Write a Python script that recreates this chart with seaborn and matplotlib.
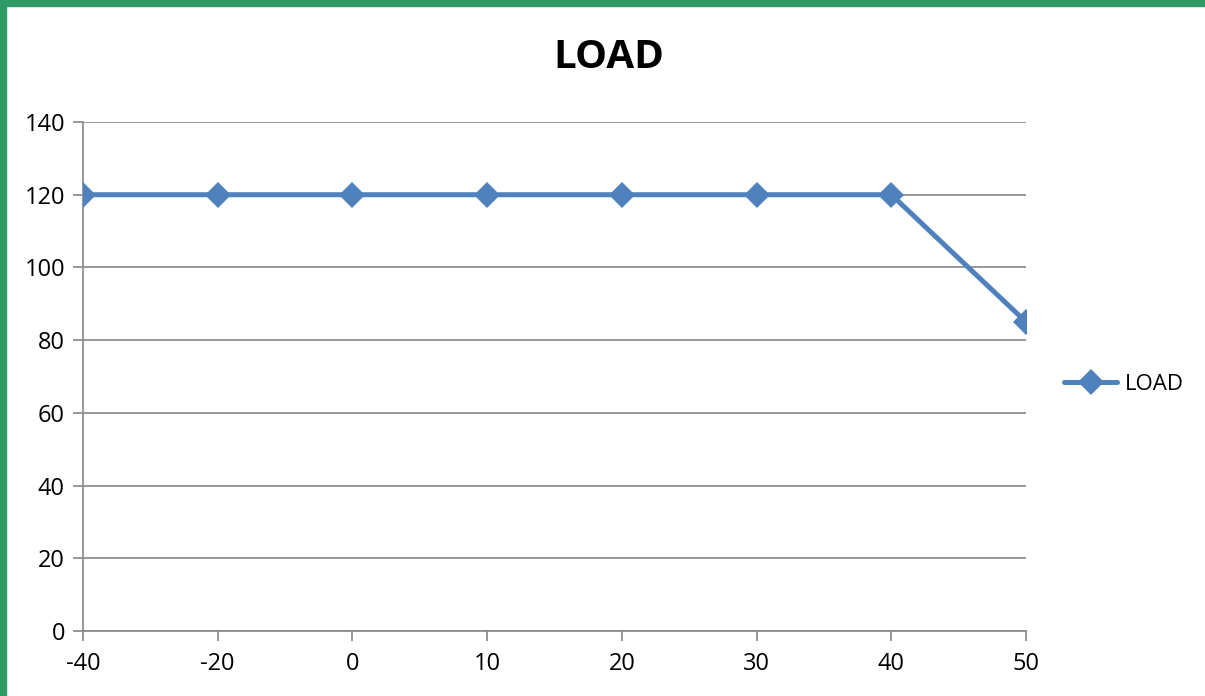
import matplotlib
matplotlib.use('Agg')
import matplotlib.pyplot as plt
import matplotlib.patches as patches
import seaborn as sns
import pandas as pd

# data
temps = ['-40', '-20', '0', '10', '20', '30', '40', '50']
load = [120, 120, 120, 120, 120, 120, 120, 85]

sns.set_style('white')
plt.rcParams['font.family'] = ['Open Sans', 'DejaVu Sans']
plt.rcParams['text.color'] = 'black'

df = pd.DataFrame({'pos': range(len(temps)), 'load': load})

fig = plt.figure(figsize=(12.05, 6.96), dpi=100)
ax = fig.add_axes([0.0689, 0.0934, 0.7826, 0.7313])

grey = '#868686'
sns.lineplot(data=df, x='pos', y='load', ax=ax, color='#4F81BD', linewidth=3.6,
             marker='D', markersize=13, markeredgewidth=0, label='LOAD', zorder=5)

ax.set_xlim(0, len(temps) - 1)
ax.set_ylim(0, 140)
ax.set_xticks(range(len(temps)))
ax.set_xticklabels(temps)
ax.set_yticks(range(0, 141, 20))
ax.yaxis.grid(True, color=grey, linewidth=1.2)
ax.set_axisbelow(True)
ax.set_xlabel('')
ax.set_ylabel('')

for side in ['top', 'right']:
    ax.spines[side].set_visible(False)
for side in ['left', 'bottom']:
    ax.spines[side].set_color(grey)
    ax.spines[side].set_linewidth(1.2)
ax.tick_params(axis='both', which='major', direction='out', length=7, width=1.2,
               color=grey, labelsize=17, labelcolor='black', left=True, bottom=True)
ax.tick_params(axis='y', pad=6)
ax.tick_params(axis='x', pad=8)

fig.text(0.505, 0.917, 'LOAD', ha='center', va='center', fontsize=29,
         fontweight='bold', color='black')

leg = ax.legend(loc='center left', bbox_to_anchor=(1.019, 0.485), frameon=False, fontsize=16,
                handlelength=2.4, handletextpad=0.35)
for t in leg.get_texts():
    t.set_color('black')

# green frame on top and left edges
fig.patches.append(patches.Rectangle((0, 0), 0.005, 1, transform=fig.transFigure,
                                     color='#2E9A66', zorder=10))
fig.patches.append(patches.Rectangle((0, 0.991), 1, 0.009, transform=fig.transFigure,
                                     color='#2E9A66', zorder=10))

plt.savefig('out.png', dpi=100)
